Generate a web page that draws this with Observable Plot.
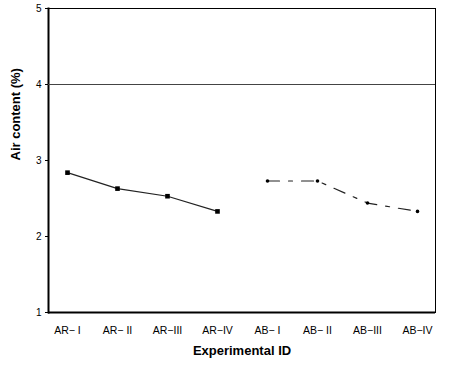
<!DOCTYPE html>
<html><head><meta charset="utf-8">
<script src="https://cdn.jsdelivr.net/npm/d3@7"></script>
<script src="https://cdn.jsdelivr.net/npm/@observablehq/plot@0.6"></script>
<style>body{margin:0;background:#fff}</style>
</head><body><div id="chart"></div>
<script>
const categories = ["AR− I","AR− II","AR−III","AR−IV","AB− I","AB− II","AB−III","AB−IV"];
const arIds = ["AR− I","AR− II","AR−III","AR−IV"];
const arValues = [2.84, 2.63, 2.53, 2.33];
const abIds = ["AB− I","AB− II","AB−III","AB−IV"];
const abValues = [2.73, 2.73, 2.44, 2.33];
const yTicks = [1, 2, 3, 4, 5];
const limitValue = [4];
const xTitle = "Experimental ID";
const yTitle = "Air content (%)";

const ar = arIds.map((id, i) => ({id, v: arValues[i]}));
const ab = abIds.map((id, i) => ({id, v: abValues[i]}));

const chart = Plot.plot({
  width: 455, height: 366,
  marginLeft: 48, marginRight: 20, marginTop: 8, marginBottom: 54,
  style: {fontFamily: "Liberation Sans, Arial, sans-serif", fontSize: "10px", color: "#000", background: "#fff"},
  x: {type: "point", domain: categories, padding: 0.3},
  y: {domain: [1, 5]},
  marks: [
    Plot.frame({stroke: "#000", strokeWidth: 1}),
    Plot.frame({anchor: "left", stroke: "#000", strokeWidth: 2}),
    Plot.ruleY([1], {stroke: "#000", strokeWidth: 2}),
    Plot.ruleY(limitValue, {stroke: "#444", strokeWidth: 1.2}),
    Plot.axisY({ticks: yTicks, tickSize: 3, tickPadding: 4, label: null, tickFormat: d3.format("d")}),
    Plot.axisX({tickSize: 0, tickPadding: 14, label: null, fontSize: 10.5}),
    Plot.line(ar, {x: "id", y: "v", stroke: "#222", strokeWidth: 1.2}),
    Plot.dot(ar, {x: "id", y: "v", symbol: "square", r: 2.6, fill: "#000"}),
    Plot.line(ab, {x: "id", y: "v", stroke: "#222", strokeWidth: 1.2, strokeDasharray: "12,9,4,9"}),
    Plot.dot(ab, {x: "id", y: "v", r: 1.8, fill: "#000"}),
    Plot.text([yTitle], {text: d => d, frameAnchor: "left", dx: -33, rotate: -90, fontWeight: "bold", fontSize: 13}),
    Plot.text([xTitle], {text: d => d, frameAnchor: "bottom", dy: 42, fontWeight: "bold", fontSize: 13})
  ]
});
document.getElementById("chart").append(chart);
</script>
</body></html>
